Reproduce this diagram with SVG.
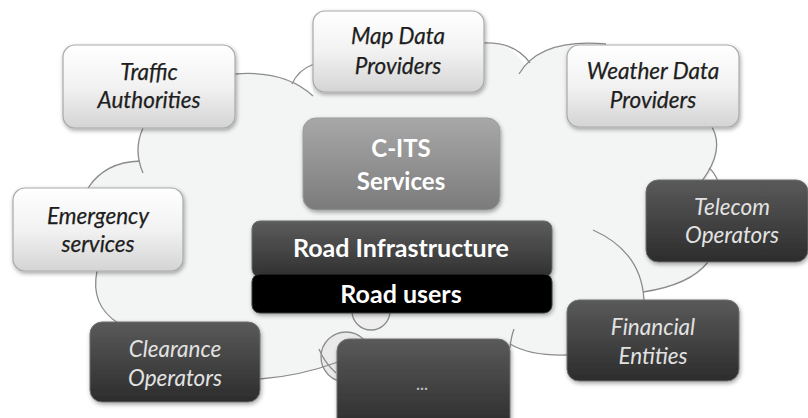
<svg xmlns="http://www.w3.org/2000/svg" width="808" height="418" viewBox="0 0 808 418">
<defs>
<linearGradient id="gLight" x1="0" y1="0" x2="0" y2="1">
<stop offset="0" stop-color="#ffffff"/><stop offset="0.5" stop-color="#f2f2f2"/><stop offset="1" stop-color="#d4d4d4"/>
</linearGradient>
<linearGradient id="gDark" x1="0" y1="0" x2="0" y2="1">
<stop offset="0" stop-color="#5a5a5a"/><stop offset="1" stop-color="#2c2c2c"/>
</linearGradient>
<linearGradient id="gMid" x1="0" y1="0" x2="0" y2="1">
<stop offset="0" stop-color="#a8a8a8"/><stop offset="1" stop-color="#7b7b7b"/>
</linearGradient>
<linearGradient id="gInfra" x1="0" y1="0" x2="0" y2="1">
<stop offset="0" stop-color="#5c5c5c"/><stop offset="1" stop-color="#303030"/>
</linearGradient>
<filter id="sh" x="-10%" y="-10%" width="125%" height="135%">
<feDropShadow dx="1" dy="2" stdDeviation="2" flood-color="#000" flood-opacity="0.35"/>
</filter>
</defs>
<style>
.cl{fill:none;stroke:#8c8c8c;stroke-width:1.3}
.light{fill:url(#gLight);stroke:#a9a9a9;stroke-width:1.2;filter:url(#sh)}
.dark{fill:url(#gDark);stroke:#6e6e6e;stroke-width:1;filter:url(#sh)}
.ti{font-family:Lato,"Open Sans","DejaVu Sans",sans-serif;font-style:italic;font-size:22.5px;text-anchor:middle}
.td{fill:#1e1e1e;stroke:#1e1e1e;stroke-width:0.25}
.tl{fill:#e2e2e2}
.tb{font-family:Lato,"Open Sans","DejaVu Sans",sans-serif;font-weight:bold;font-size:24px;text-anchor:middle;fill:#ffffff}
.tr{font-size:25px}
</style>
<rect width="808" height="418" fill="#ffffff"/>
<g id="cloud">
<path d="M235,74 Q285,70 313,96 L313,60 L484,60 L484,43 Q512,42 525,66 Q545,38 606,44 L640,90 L712,127 Q725,150 706,181 L706,200 L708,262 Q690,285 643,292 L643,300 L567,355 Q530,356 510,344 L510,360 L337,360 L338,362 Q300,376 260,379 L260,340 L118,323 Q90,305 97,271 L97,260 L88,188 Q105,162 140,161 Q133,150 143,128 L143,110 L235,110 Z" fill="#f3f4f4"/>
<circle cx="371" cy="311" r="19" fill="#eeeeee" stroke="#8c8c8c" stroke-width="1.3"/>
<circle cx="346" cy="357" r="25" fill="#eaeaea" stroke="#8c8c8c" stroke-width="1.3"/>
</g>
<g id="connectors">
<path class="cl" d="M235,74 Q285,70 313,96"/>
<path class="cl" d="M292,84 Q298,70 314,64"/>
<path class="cl" d="M484,43 Q515,42 530,63"/>
<path class="cl" d="M519,74 Q540,38 606,44"/>
<path class="cl" d="M712,127 Q725,150 702,181"/>
<path class="cl" d="M709,168 Q714,172 718,181"/>
<path class="cl" d="M708,262 Q690,285 643,292"/>
<path class="cl" d="M593,230 C620,242 642,262 644,300"/>
<path class="cl" d="M567,355 Q530,356 510,344"/>
<path class="cl" d="M514,329 Q511,337 510,348"/>
<path class="cl" d="M260,379 Q300,376 338,362"/>
<path class="cl" d="M319,349 Q324,362 336,373"/>
<path class="cl" d="M97,271 Q90,305 118,323"/>
<path class="cl" d="M143,128 Q133,150 143,173"/>
<path class="cl" d="M88,188 Q105,162 140,161"/>
</g>
<g id="traffic">
<rect class="light" x="63" y="45" width="172" height="83" rx="12"/>
<text class="ti td" x="149" y="80">Traffic</text>
<text class="ti td" x="149" y="108">Authorities</text>
</g>
<g id="mapdata">
<rect class="light" x="313" y="11" width="171" height="81" rx="12"/>
<text class="ti td" x="398" y="44">Map Data</text>
<text class="ti td" x="398" y="74">Providers</text>
</g>
<g id="weather">
<rect class="light" x="567" y="45" width="172" height="82" rx="12"/>
<text class="ti td" x="653" y="79">Weather Data</text>
<text class="ti td" x="653" y="108">Providers</text>
</g>
<g id="emergency">
<rect class="light" x="13" y="188" width="170" height="83" rx="12"/>
<text class="ti td" x="98" y="224">Emergency</text>
<text class="ti td" x="98" y="252">services</text>
</g>
<g id="cits">
<rect x="303" y="118" width="197" height="92" rx="13" fill="url(#gMid)" stroke="#9a9a9a" stroke-width="1" filter="url(#sh)"/>
<text class="tb" x="401" y="157">C-ITS</text>
<text class="tb" x="401" y="190">Services</text>
</g>
<g id="infra">
<rect x="252" y="221" width="300" height="56" rx="8" fill="url(#gInfra)" stroke="#6a6a6a" stroke-width="1" filter="url(#sh)"/>
<text class="tb tr" x="401" y="257">Road Infrastructure</text>
</g>
<g id="users">
<rect x="252" y="274" width="300" height="39" rx="8" fill="#020202" stroke="#3a3a3a" stroke-width="1" filter="url(#sh)"/>
<text class="tb tr" x="401" y="303">Road users</text>
</g>
<g id="telecom">
<rect class="dark" x="646" y="180" width="162" height="82" rx="12"/>
<text class="ti tl" x="732" y="215">Telecom</text>
<text class="ti tl" x="732" y="243">Operators</text>
</g>
<g id="financial">
<rect class="dark" x="567" y="300" width="172" height="81" rx="12"/>
<text class="ti tl" x="653" y="335">Financial</text>
<text class="ti tl" x="653" y="364">Entities</text>
</g>
<g id="clearance">
<rect class="dark" x="90" y="322" width="170" height="80" rx="12"/>
<text class="ti tl" x="175" y="357">Clearance</text>
<text class="ti tl" x="175" y="386">Operators</text>
</g>
<g id="more">
<rect class="dark" x="337" y="339" width="173" height="92" rx="12"/>
<text x="422" y="390" font-family="'Open Sans',sans-serif" font-size="14" font-weight="bold" text-anchor="middle" fill="#bdbdbd">...</text>
</g>
</svg>
